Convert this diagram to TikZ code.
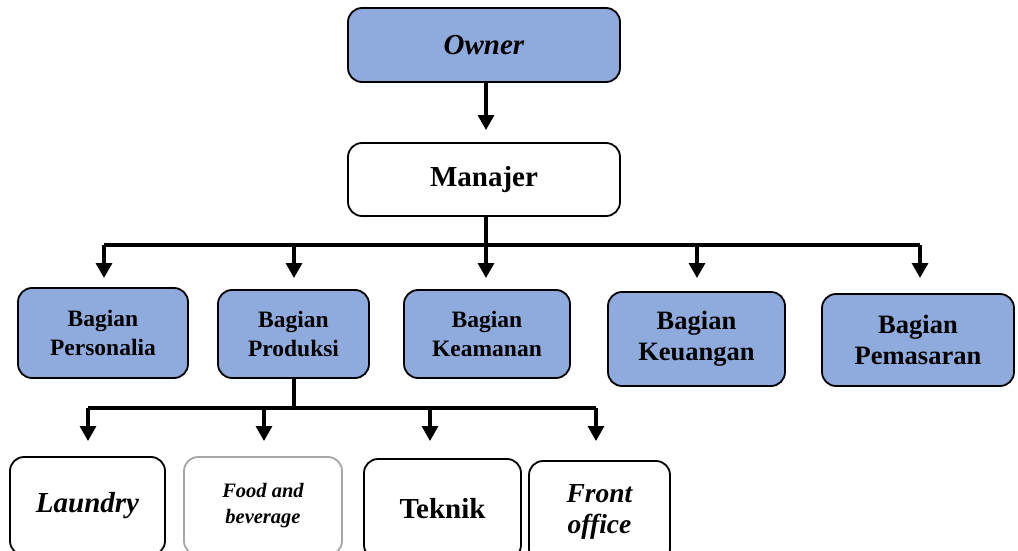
\documentclass[tikz,border=0pt]{standalone}
\usepackage{fontspec}
\setmainfont{Liberation Serif}
\usetikzlibrary{arrows.meta}
\definecolor{boxblue}{HTML}{8FAADC}
\begin{document}
\begin{tikzpicture}[x=1pt,y=-1pt,
  box/.style={draw=black, line width=1.8pt, rounded corners=14pt, inner sep=0pt, align=center, font=\bfseries},
  bluebox/.style={box, fill=boxblue},
  whitebox/.style={box, fill=white},
  fs/.style args={#1/#2}{font=\bfseries\fontsize{#1}{#2}\selectfont},
  fsi/.style args={#1/#2}{font=\bfseries\itshape\fontsize{#1}{#2}\selectfont},
  conn/.style={line width=3.2pt},
  arr/.style={line width=3.2pt, -{Triangle[width=16pt,length=15pt]}}]
\useasboundingbox (0,0) rectangle (1018,551);
\clip (0,0) rectangle (1018,551);

% top
\node[bluebox, fsi=29/34, minimum width=272pt, minimum height=74pt] (own) at (484,45) {Owner};
\node[whitebox, fs=29/34, minimum width=272pt, minimum height=73pt] (man) at (484,179.5) {Manajer};

% second row
\node[bluebox, fs=23.5/28.5, minimum width=170pt, minimum height=90pt] (pers) at (103,333) {Bagian\\Personalia};
\node[bluebox, fs=23.5/28.5, minimum width=151pt, minimum height=88pt] (prod) at (293.5,334) {Bagian\\Produksi};
\node[bluebox, fs=23.5/28.5, minimum width=166pt, minimum height=88pt] (keam) at (487,334) {Bagian\\Keamanan};
\node[bluebox, fs=26.5/31, minimum width=177pt, minimum height=94pt] (keu) at (696.5,339) {Bagian\\Keuangan};
\node[bluebox, fs=26.5/31, minimum width=192pt, minimum height=92pt] (pem) at (918,340) {Bagian\\Pemasaran};

% third row
\node[whitebox, fsi=29/34, minimum width=155pt, minimum height=98pt] (lau) at (87.5,506) {Laundry};
\node[whitebox, draw=gray!70, fsi=20.5/26, minimum width=158pt, minimum height=98pt] (food) at (263,506) {Food and\\beverage};
\node[whitebox, fs=29/34, minimum width=157pt, minimum height=100pt] (tek) at (442.5,509) {Teknik};
\node[whitebox, fsi=27.5/31, minimum width=141pt, minimum height=102pt] (fro) at (599.5,512) {Front\\office};

% connectors
\coordinate (t1) at (486,130);
\draw[arr] (own.south -| t1) -- (t1);

\coordinate (bus) at (0,245);
\coordinate (tip) at (0,278);
\draw[conn] (man.south -| t1) -- (t1 |- bus);
\draw[conn] (104,245) coordinate (busL) -- (920,245) coordinate (busR);
\coordinate (a1) at (104,0);
\coordinate (a2) at (294,0);
\coordinate (a3) at (486,0);
\coordinate (a4) at (697,0);
\coordinate (a5) at (920,0);
\draw[arr] (a1 |- bus) -- (a1 |- tip);
\draw[arr] (a2 |- bus) -- (a2 |- tip);
\draw[arr] (a3 |- bus) -- (a3 |- tip);
\draw[arr] (a4 |- bus) -- (a4 |- tip);
\draw[arr] (a5 |- bus) -- (a5 |- tip);

\coordinate (bus2) at (0,408);
\coordinate (tip2) at (0,441);
\coordinate (b1) at (88,0);
\coordinate (b2) at (264,0);
\coordinate (b3) at (430,0);
\coordinate (b4) at (596,0);
\draw[conn] (prod.south -| a2) -- (a2 |- bus2);
\draw[conn] (b1 |- bus2) -- (b4 |- bus2);
\draw[arr] (b1 |- bus2) -- (b1 |- tip2);
\draw[arr] (b2 |- bus2) -- (b2 |- tip2);
\draw[arr] (b3 |- bus2) -- (b3 |- tip2);
\draw[arr] (b4 |- bus2) -- (b4 |- tip2);
\end{tikzpicture}
\end{document}
